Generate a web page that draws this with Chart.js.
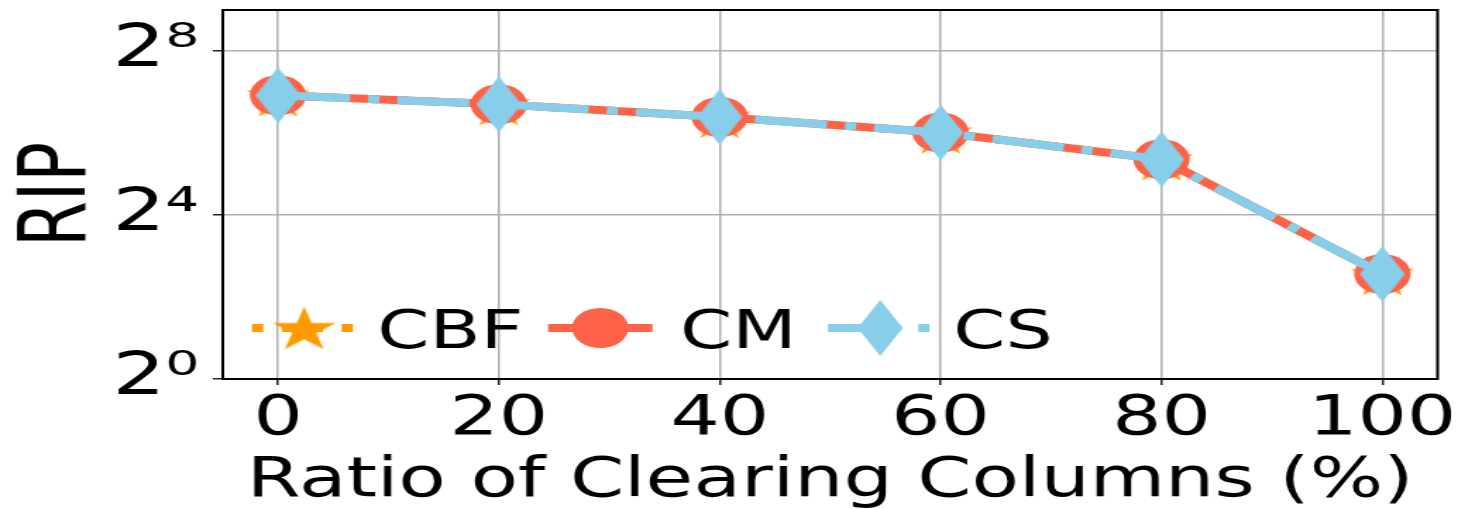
<!DOCTYPE html>
<html>
<head>
<meta charset="utf-8">
<script src="https://cdn.jsdelivr.net/npm/chart.js@4/dist/chart.umd.min.js"></script>
<style>
  html, body { margin: 0; padding: 0; background: #fff; overflow: hidden; }
  /* the figure is laid out on a narrower canvas and widened to the page */
  #wrap { width: 1034px; height: 509px; transform: scaleX(1.41006); transform-origin: 0 0; }
</style>
</head>
<body>
<div id="wrap"><canvas id="c" width="1034" height="509"></canvas></div>
<script>
// ---- data ----
const ratioPct = [0, 20, 40, 60, 80, 100];
const cbfRIP = [121, 104, 84, 64.5, 41, 5.9];
const cmRIP  = [121, 104, 84, 64.5, 41, 5.9];
const csRIP  = [121, 104, 84, 64.5, 41, 5.9];
const xTickValues = [0, 20, 40, 60, 80, 100];
const yTickValues = [1, 16, 256];
const yTickLabels = ['2⁰', '2⁴', '2⁸'];
const seriesNames = ['CBF', 'CM', 'CS'];

// ---- styling ----
const FONT = "'DejaVu Sans'";
const ORANGE = '#ff9a00', TOMATO = '#ff6347', SKY = '#87ceeb';
const LW = 8;
const DOTTED = [LW * 1, LW * 1.65];
const DASHDOT = [LW * 6.4, LW * 1.6, LW * 1, LW * 1.6];

function starMarker(R, color) {
  const s = Math.ceil(2 * R + 4), c = document.createElement('canvas');
  c.width = s; c.height = s;
  const g = c.getContext('2d');
  const r = R * 0.382;
  g.translate(s / 2, s / 2 + R * 0.1);
  g.beginPath();
  for (let i = 0; i < 10; i++) {
    const a = -Math.PI / 2 + i * Math.PI / 5;
    const rr = i % 2 === 0 ? R : r;
    g.lineTo(rr * Math.cos(a), rr * Math.sin(a));
  }
  g.closePath();
  g.fillStyle = color; g.fill();
  return c;
}
function thinDiamondMarker(hw, hh, color) {
  const c = document.createElement('canvas');
  c.width = Math.ceil(2 * hw + 2); c.height = Math.ceil(2 * hh + 2);
  const g = c.getContext('2d');
  const cx = c.width / 2, cy = c.height / 2;
  g.beginPath();
  g.moveTo(cx, cy - hh); g.lineTo(cx + hw, cy); g.lineTo(cx, cy + hh); g.lineTo(cx - hw, cy);
  g.closePath();
  g.fillStyle = color; g.fill();
  return c;
}
const starImg = starMarker(23.5, ORANGE);
const diamondImg = thinDiamondMarker(16, 28, SKY);

const pts = (vals) => ratioPct.map((x, i) => ({ x: x, y: vals[i] }));

// frame on all four sides of the axes
const framePlugin = {
  id: 'frame',
  afterDatasetsDraw(chart) {
    const { ctx, chartArea: a } = chart;
    ctx.save();
    ctx.strokeStyle = '#000'; ctx.lineWidth = 2;
    ctx.strokeRect(a.left, a.top, a.right - a.left, a.bottom - a.top);
    ctx.restore();
  }
};

// legend inside the lower-left of the axes: line sample, marker, name
const legendPlugin = {
  id: 'insideLegend',
  afterDraw(chart) {
    const ctx = chart.ctx;
    const y = 328;
    const entries = [
      { x0: 178.7, color: ORANGE, dash: DOTTED,  marker: 'star',    tx: 267.4 },
      { x0: 388.7, color: TOMATO, dash: [],      marker: 'circle',  tx: 482.3 },
      { x0: 587.2, color: SKY,    dash: DASHDOT, marker: 'diamond', tx: 675.9 }
    ];
    ctx.save();
    entries.forEach((e, i) => {
      const len = 74, cx = e.x0 + len / 2;
      ctx.beginPath();
      ctx.setLineDash(e.dash);
      ctx.lineCap = 'butt';
      ctx.strokeStyle = e.color; ctx.lineWidth = LW;
      ctx.moveTo(e.x0, y); ctx.lineTo(e.x0 + len, y);
      ctx.stroke();
      ctx.setLineDash([]);
      if (e.marker === 'circle') {
        ctx.beginPath(); ctx.arc(cx, y, 20, 0, Math.PI * 2);
        ctx.fillStyle = e.color; ctx.fill();
      } else {
        const img = e.marker === 'star' ? starImg : diamondImg;
        ctx.drawImage(img, cx - img.width / 2, y - img.height / 2);
      }
      ctx.fillStyle = '#000';
      ctx.font = '53px ' + FONT;
      ctx.textBaseline = 'alphabetic';
      ctx.textAlign = 'left';
      ctx.fillText(seriesNames[i], e.tx, y + 19.5);
    });
    ctx.restore();
  }
};

new Chart(document.getElementById('c'), {
  type: 'line',
  data: {
    datasets: [
      { label: seriesNames[0], data: pts(cbfRIP), borderColor: ORANGE, backgroundColor: ORANGE,
        borderWidth: LW, borderDash: DOTTED, pointStyle: starImg, order: 3 },
      { label: seriesNames[1], data: pts(cmRIP), borderColor: TOMATO, backgroundColor: TOMATO,
        borderWidth: LW, pointStyle: 'circle', pointRadius: 20, pointBorderWidth: 0, order: 2 },
      { label: seriesNames[2], data: pts(csRIP), borderColor: SKY, backgroundColor: SKY,
        borderWidth: LW, borderDash: DASHDOT, pointStyle: diamondImg, order: 1 }
    ]
  },
  options: {
    responsive: false,
    animation: false,
    events: [],
    layout: { autoPadding: false, padding: { top: 10, right: 14.5, left: 0, bottom: 0 } },
    elements: { line: { tension: 0, fill: false } },
    plugins: { legend: { display: false }, tooltip: { enabled: false } },
    scales: {
      x: {
        type: 'linear', min: -5, max: 105,
        afterBuildTicks: (s) => { s.ticks = xTickValues.map(v => ({ value: v })); },
        afterFit: (s) => { s.height = 130; s.paddingLeft = 0; s.paddingRight = 0; },
        grid: { color: '#b0b0b0', lineWidth: 1.5, tickLength: 6, tickColor: '#222', tickWidth: 1.5 },
        border: { display: false },
        ticks: { color: '#000', font: { family: FONT, size: 55 }, padding: 2, maxRotation: 0 },
        title: { display: true, text: 'Ratio of Clearing Columns (%)', color: '#000',
                 font: { family: FONT, size: 55, lineHeight: 1 }, padding: { top: 0, bottom: 0 } }
      },
      y: {
        type: 'logarithmic', min: 1, max: 512,
        afterBuildTicks: (s) => { s.ticks = yTickValues.map(v => ({ value: v })); },
        afterFit: (s) => { s.width = 158; s.paddingTop = 0; s.paddingBottom = 0; },
        grid: { color: '#b0b0b0', lineWidth: 1.5, tickLength: 7, tickColor: '#222', tickWidth: 1.5 },
        border: { display: false },
        ticks: { color: '#000', font: { family: FONT, size: 59 }, padding: 10,
                 callback: (v) => yTickLabels[yTickValues.indexOf(v)] },
        title: { display: true, text: 'RIP', color: '#000',
                 font: { family: FONT, size: 66, lineHeight: 1 }, padding: { top: 10, bottom: 0 } }
      }
    }
  },
  plugins: [framePlugin, legendPlugin]
});
</script>
</body>
</html>
